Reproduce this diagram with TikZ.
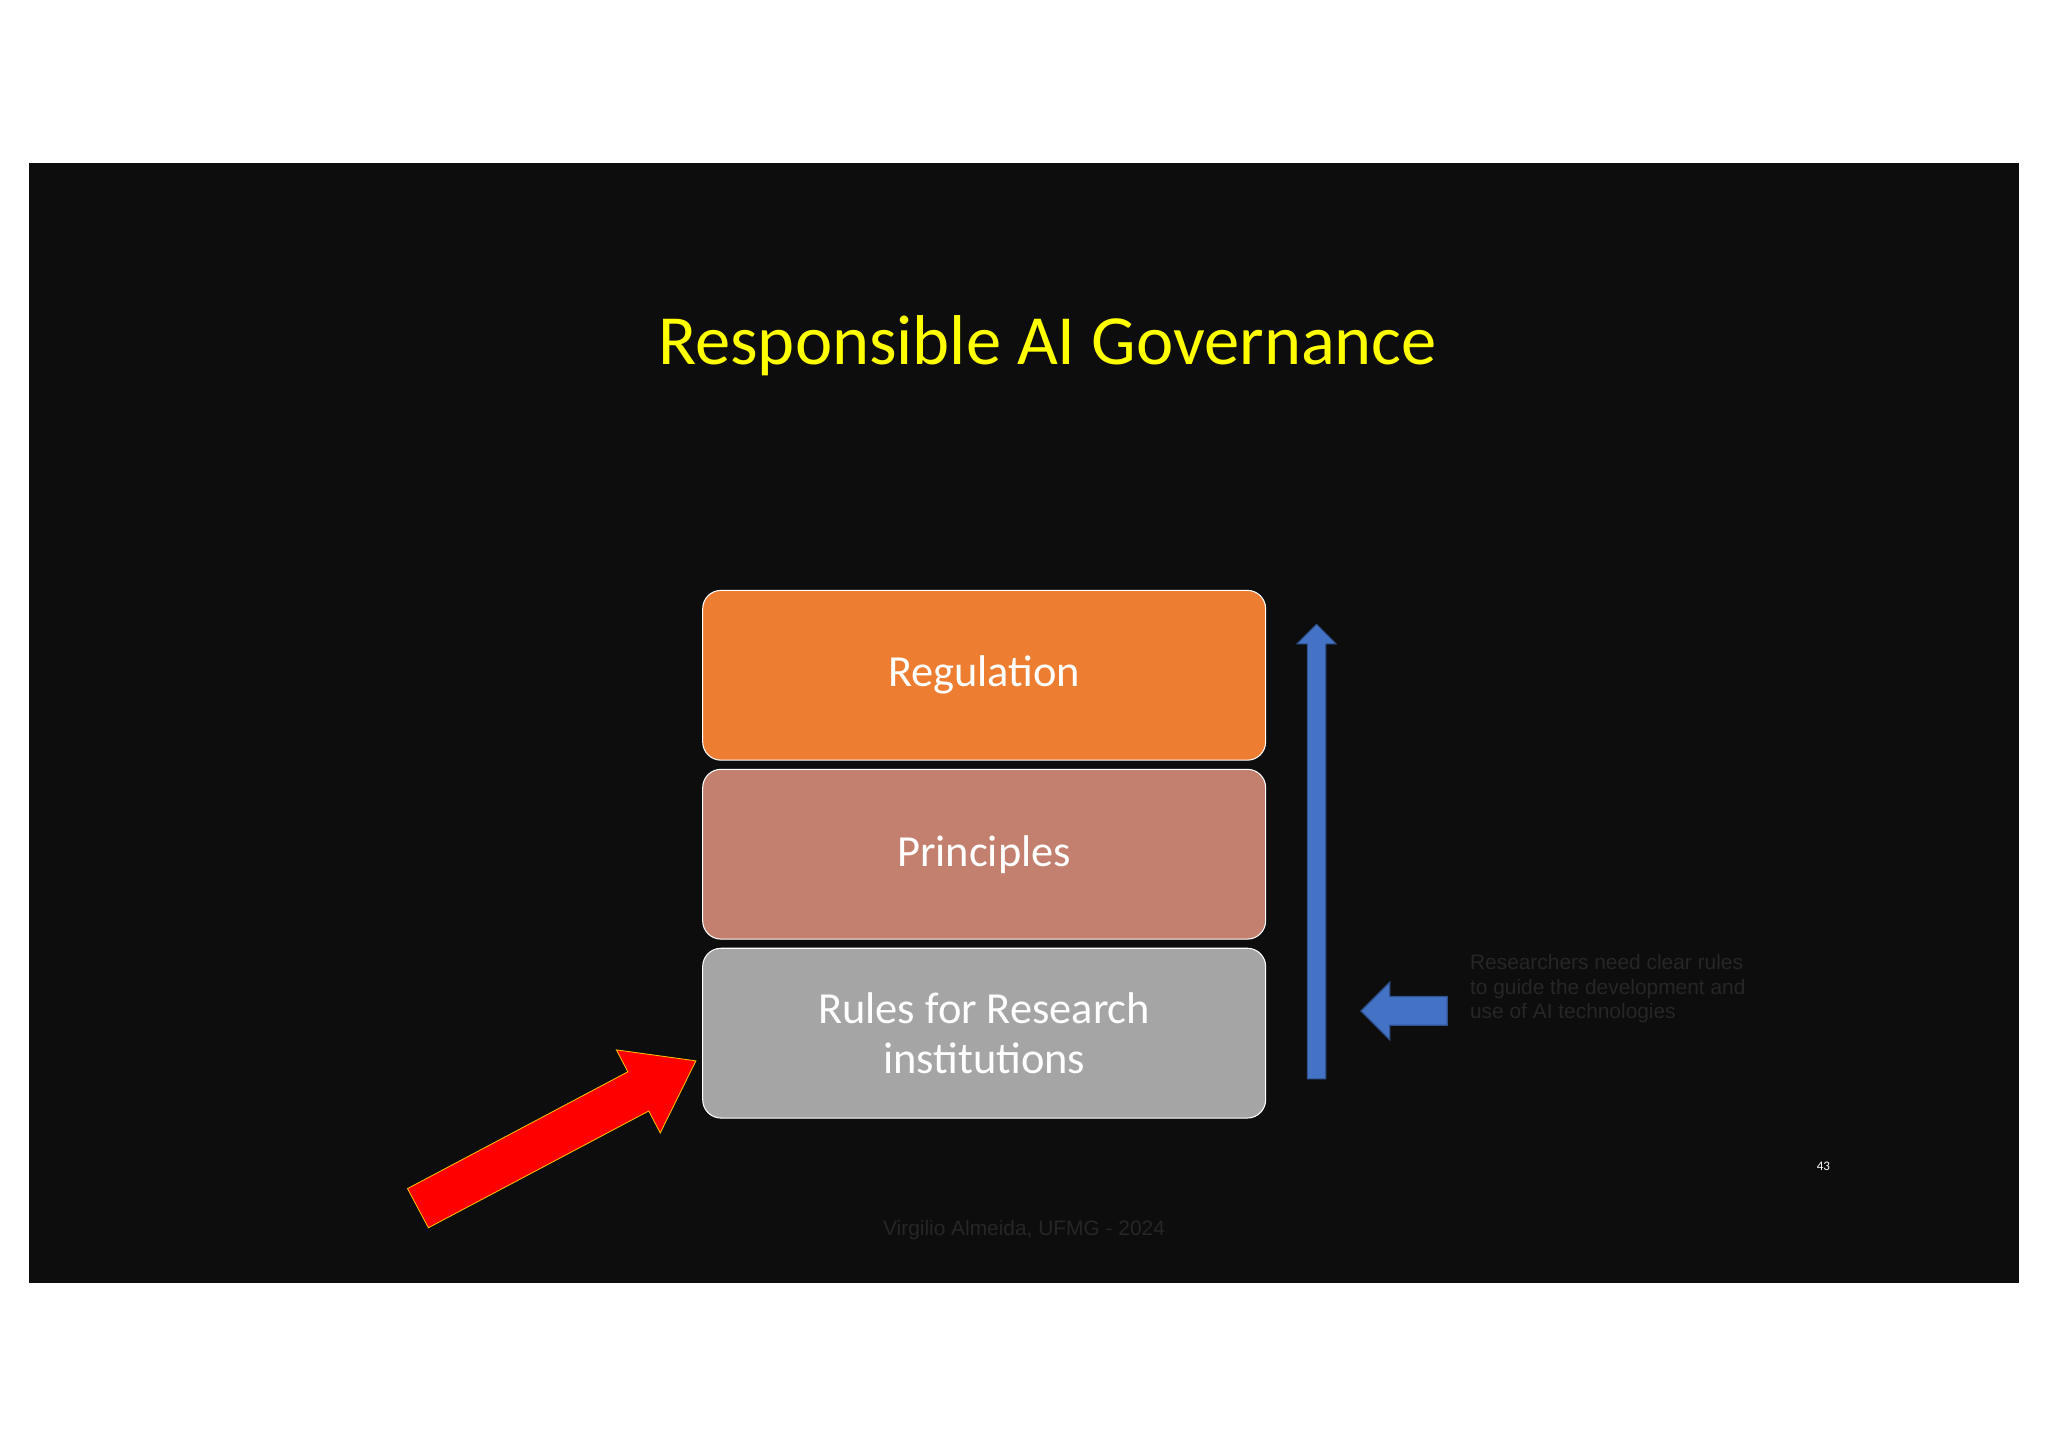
\documentclass[tikz,border=0pt]{standalone}
\usepackage{fontspec}
\setmainfont{Carlito}
\newfontfamily\arialf{Liberation Sans}
\begin{document}
\begin{tikzpicture}[x=1pt,y=-1pt,
  box/.style={draw=white,line width=0.8pt,rounded corners=14pt,minimum width=431pt,minimum height=130pt,text=white,font=\fontsize{34}{38}\selectfont,align=center,inner sep=0pt},
  dark/.style={text=black!85,font=\arialf\fontsize{16}{19}\selectfont,align=left}]
\useasboundingbox (0,0) rectangle (1568,1107);
\fill[white] (0,0) rectangle (1568,1107);
\fill[black!95] (22,125) rectangle (1546,982);
\node[text={rgb,255:red,255;green,255;blue,0},font=\fontsize{54}{60}\selectfont] (title) at (802,265) {Responsible AI Governance};
\node[box,fill={rgb,255:red,237;green,125;blue,49}] (reg) at (753.5,517) {Regulation};
\node[box,fill={rgb,255:red,196;green,128;blue,110}] (pri) at (753.5,654) {Principles};
\node[box,fill={rgb,255:red,165;green,165;blue,165}] (rul) at (753.5,791) {Rules for Research\\institutions};
% blue vertical arrow
\filldraw[fill={rgb,255:red,68;green,114;blue,196},draw={rgb,255:red,47;green,82;blue,143},line width=0.8pt]
 (1001,826) -- (1015,826) -- (1015,493) -- (1023,493) -- (1008,478) -- (993,493) -- (1001,493) -- cycle;
% blue left arrow
\filldraw[fill={rgb,255:red,68;green,114;blue,196},draw={rgb,255:red,47;green,82;blue,143},line width=1pt]
 (1108,763) -- (1064,763) -- (1064,752) -- (1042,774) -- (1064,796) -- (1064,785) -- (1108,785) -- cycle;
\node[dark,anchor=north west] (txt) at (1122,727) {Researchers need clear rules\\to guide the development and\\use of AI technologies};
% red arrow
\filldraw[fill=red,draw={rgb,255:red,255;green,200;blue,0},line width=0.6pt]
 (328,940) -- (496.7,850.6) -- (505.5,867.4) -- (532.8,812.2) -- (471.9,803.8) -- (480.7,820.6) -- (312,910) -- cycle;
\node[text=white,font=\fontsize{10}{12}\selectfont] (pg) at (1396,893) {43};
\node[dark] (foot) at (784,942) {Virgilio Almeida, UFMG - 2024};
\end{tikzpicture}
\end{document}
